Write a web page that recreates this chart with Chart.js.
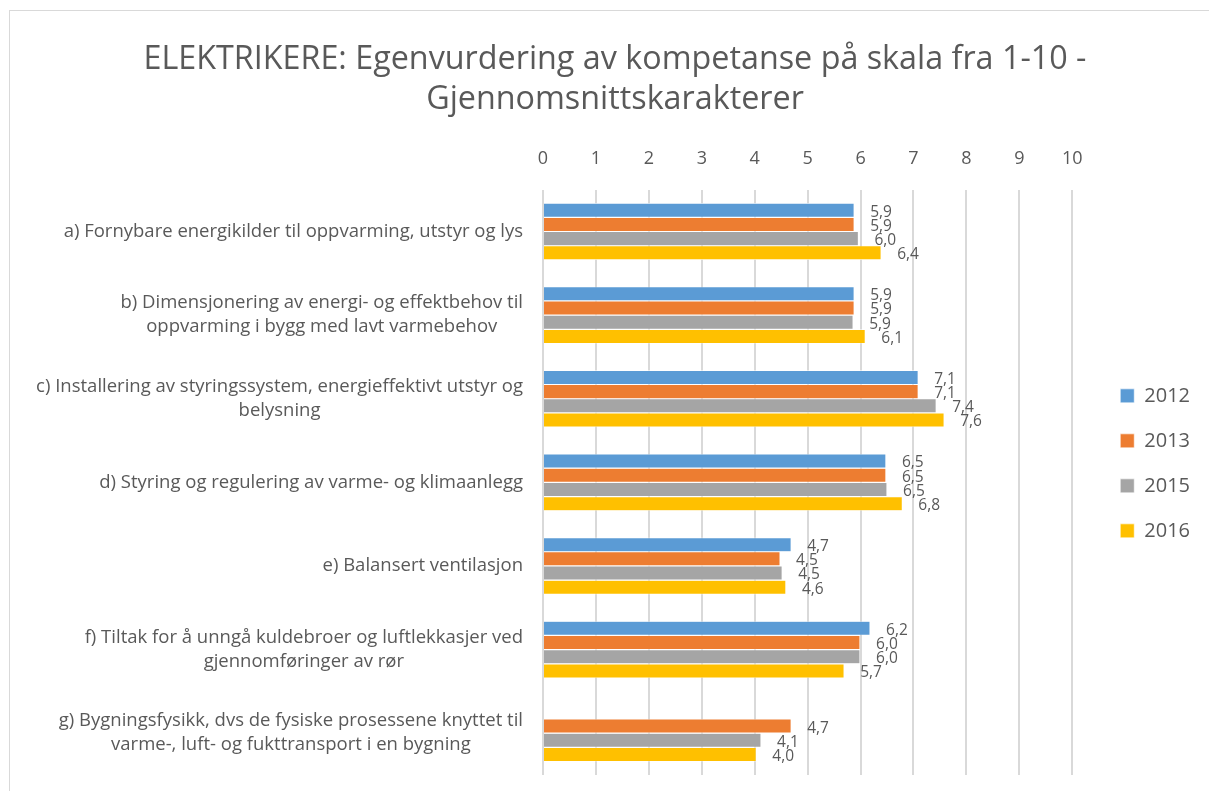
<!DOCTYPE html>
<html>
<head>
<meta charset="utf-8">
<script src="https://cdn.jsdelivr.net/npm/chart.js@4"></script>
<style>
  html, body { margin: 0; padding: 0; background: #fff; }
  #frame { position: absolute; left: 9px; top: 10px; width: 1300px; height: 900px; border: 1px solid #d9d9d9; }
  #wrap { position: absolute; left: 0; top: 0; width: 1209px; height: 791px; }
</style>
</head>
<body>
<div id="frame"></div>
<div id="wrap"><canvas id="chart"></canvas></div>
<script>
const categories = [
    ['a) Fornybare energikilder til oppvarming, utstyr og lys'],
    ['b) Dimensjonering av energi- og effektbehov til', 'oppvarming i bygg med lavt varmebehov'],
    ['c) Installering av styringssystem, energieffektivt utstyr og', 'belysning'],
    ['d) Styring og regulering av varme- og klimaanlegg'],
    ['e) Balansert ventilasjon'],
    ['f) Tiltak for å unngå kuldebroer og luftlekkasjer ved', 'gjennomføringer av rør'],
    ['g) Bygningsfysikk, dvs de fysiske prosessene knyttet til', 'varme-, luft- og fukttransport i en bygning']
];
const years = ['2012', '2013', '2015', '2016'];
const values2012 = [5.88, 5.88, 7.09, 6.48, 4.69, 6.18, null];
const values2013 = [5.88, 5.88, 7.09, 6.48, 4.48, 5.99, 4.69];
const values2015 = [5.96, 5.86, 7.43, 6.50, 4.52, 5.99, 4.12];
const values2016 = [6.39, 6.09, 7.58, 6.79, 4.59, 5.69, 4.03];
const colors = ['#5B9BD5', '#ED7D31', '#A5A5A5', '#FFC000'];
const xMin = 0, xMax = 10, xStep = 1;

const textColor = '#595959';
const fontFamily = '"Open Sans", "Noto Sans", sans-serif';

// value labels to the right of each bar, decimal comma
const barLabels = {
    id: 'barLabels',
    afterDatasetsDraw(chart) {
        const ctx = chart.ctx;
        ctx.save();
        ctx.font = '15.5px ' + fontFamily;
        ctx.fillStyle = textColor;
        ctx.textAlign = 'left';
        ctx.textBaseline = 'middle';
        chart.data.datasets.forEach((ds, i) => {
            chart.getDatasetMeta(i).data.forEach((bar, j) => {
                const v = ds.data[j];
                if (v === null) return;
                ctx.fillText(v.toFixed(1).replace('.', ','), bar.x + 16, bar.y + 2);
            });
        });
        ctx.restore();
    }
};

// category labels: block right aligned, lines centred in the block
const categoryLabels = {
    id: 'categoryLabels',
    afterDraw(chart) {
        const ctx = chart.ctx;
        const yScale = chart.scales.y;
        const right = chart.chartArea.left - 20;
        const lineH = 24;
        ctx.save();
        ctx.font = '18.5px ' + fontFamily;
        ctx.fillStyle = textColor;
        ctx.textAlign = 'center';
        ctx.textBaseline = 'middle';
        categories.forEach((lines, i) => {
            const w = Math.max(...lines.map(l => ctx.measureText(l).width));
            const cx = right - w / 2;
            const cy = yScale.getPixelForValue(i);
            const y0 = cy - (lines.length - 1) * lineH / 2;
            lines.forEach((l, k) => ctx.fillText(l, cx, y0 + k * lineH));
        });
        ctx.restore();
    }
};

const ctx = document.getElementById('chart').getContext('2d');
new Chart(ctx, {
    type: 'bar',
    data: {
        labels: categories,
        datasets: [
            { label: years[0], data: values2012, backgroundColor: colors[0] },
            { label: years[1], data: values2013, backgroundColor: colors[1] },
            { label: years[2], data: values2015, backgroundColor: colors[2] },
            { label: years[3], data: values2016, backgroundColor: colors[3] }
        ]
    },
    options: {
        indexAxis: 'y',
        responsive: true,
        maintainAspectRatio: false,
        animation: false,
        datasets: {
            bar: {
                categoryPercentage: 0.68,
                barPercentage: 1.0,
                borderColor: '#ffffff',
                borderWidth: 0.6
            }
        },
        layout: { padding: { top: 0, right: 9, bottom: 16, left: 30 } },
        plugins: {
            title: {
                display: true,
                text: ['ELEKTRIKERE: Egenvurdering av kompetanse på skala fra 1-10 -', 'Gjennomsnittskarakterer'],
                color: textColor,
                font: { family: fontFamily, size: 32.3, weight: 'normal', lineHeight: 1.24 },
                padding: { top: 40, bottom: 8 }
            },
            legend: {
                display: true,
                position: 'right',
                fullSize: false,
                title: {
                    display: true,
                    text: '',
                    font: { size: 1, lineHeight: 1 },
                    padding: { top: 0, bottom: -39 }
                },
                labels: {
                    color: textColor,
                    font: { family: fontFamily, size: 20 },
                    boxWidth: 14,
                    boxHeight: 14,
                    padding: 25
                }
            },
            tooltip: { enabled: false }
        },
        scales: {
            x: {
                position: 'top',
                min: xMin,
                max: xMax,
                ticks: {
                    stepSize: xStep,
                    color: textColor,
                    font: { family: fontFamily, size: 18 },
                    padding: 20
                },
                grid: { color: '#d9d9d9', lineWidth: 2, drawTicks: false },
                border: { display: false }
            },
            y: {
                ticks: { display: false },
                grid: { display: false },
                border: { display: false },
                afterFit: (scale) => { scale.width = 513; }
            },
            gap: {
                axis: 'y',
                type: 'linear',
                position: 'right',
                display: true,
                ticks: { display: false },
                grid: { display: false },
                border: { display: false },
                afterFit: (scale) => { scale.width = 23; }
            }
        }
    },
    plugins: [barLabels, categoryLabels]
});
</script>
</body>
</html>
